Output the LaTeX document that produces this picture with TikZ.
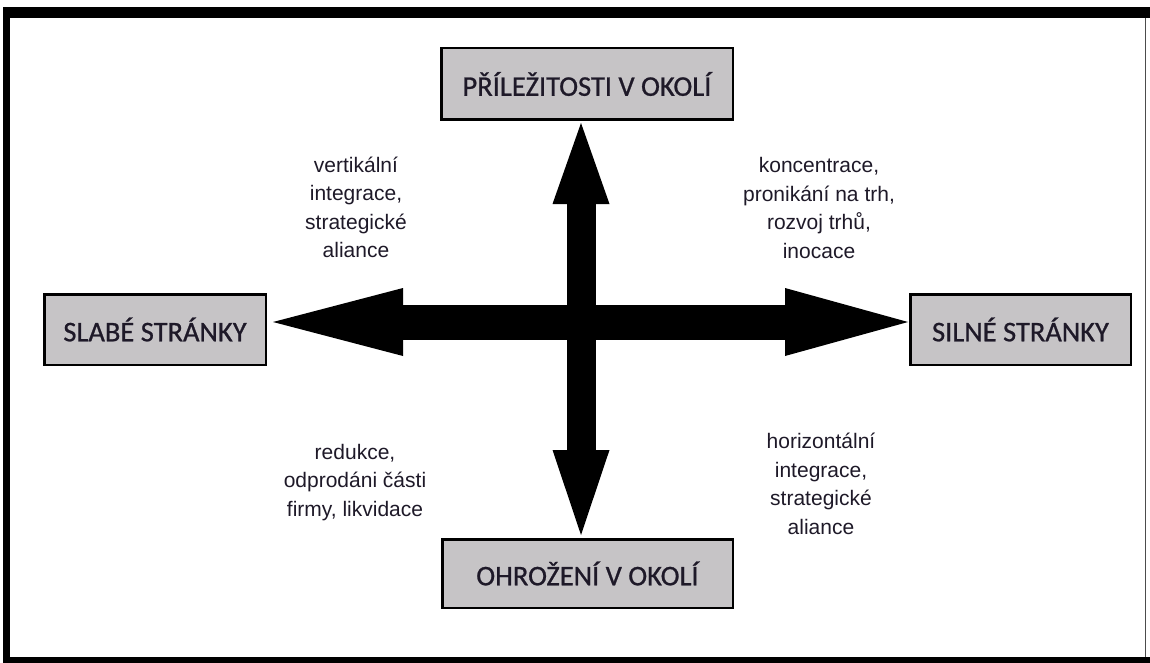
\documentclass[tikz,border=0pt]{standalone}
\usepackage{fontspec}
\setmainfont{Liberation Sans}
\newfontfamily\boxfont[FakeBold=0.8]{Carlito}
\usetikzlibrary{arrows.meta}
\definecolor{boxgray}{RGB}{198,196,198}
\definecolor{txt}{RGB}{30,25,40}
\begin{document}
\begin{tikzpicture}[x=1pt,y=-1pt,
  box/.style={draw=black, line width=2.5pt, fill=boxgray, inner sep=0pt,
    font=\boxfont\fontsize{28.5}{30}\selectfont, text=txt},
  lbl/.style={align=center, font=\fontsize{21}{28.5}\selectfont, text=txt, inner sep=0pt},
  vshaft/.style={line width=29pt, black},
  hshaft/.style={line width=35pt, black},
  frame/.style={fill=black}]
\useasboundingbox (0,0) rectangle (1150,663);
% frame
\fill[frame] (3,7) rectangle (1150,18);
\fill[frame] (3,7) rectangle (10,663);
\fill[frame] (3,657) rectangle (1150,663);
\draw[line width=1pt, black!70] (1145.5,18) -- (1145.5,657);
% boxes
\node[box, minimum width=291.5pt, minimum height=71.5pt] (top) at (587,84) {PŘÍLEŽITOSTI V OKOLÍ};
\node[box, minimum width=290.5pt, minimum height=68.5pt] (bot) at (587.5,573.5) {OHROŽENÍ V OKOLÍ};
\node[box, minimum width=221.5pt, minimum height=70.5pt] (left) at (155,329.5) {SLABÉ STRÁNKY};
\node[box, minimum width=220.5pt, minimum height=70.5pt] (right) at (1020.5,329.5) {SILNÉ STRÁNKY};
% arrow axes
\coordinate (vx) at (581,0);
\coordinate (hy) at (0,322);
\draw[vshaft, {Triangle[length=85pt,width=57pt,line width=0pt]}-{Triangle[length=81pt,width=57pt,line width=0pt]},
  shorten <=3pt, shorten >=2pt] (bot.north -| vx) -- (top.south -| vx);
\draw[hshaft, {Triangle[length=130pt,width=68pt,line width=0pt]}-{Triangle[length=123pt,width=68pt,line width=0pt]},
  shorten <=6pt, shorten >=1pt] (left.east |- hy) -- (right.west |- hy);
% labels
\node[lbl] (tl) at (356,207.5) {vertikální\\integrace,\\strategické\\aliance};
\node[lbl] (tr) at (819,208) {koncentrace,\\pronikání na trh,\\rozvoj trhů,\\inocace};
\node[lbl] (bl) at (355,482.5) {redukce,\\odprodáni části\\firmy, likvidace};
\node[lbl] (br) at (821,484) {horizontální\\integrace,\\strategické\\aliance};
\end{tikzpicture}
\end{document}
